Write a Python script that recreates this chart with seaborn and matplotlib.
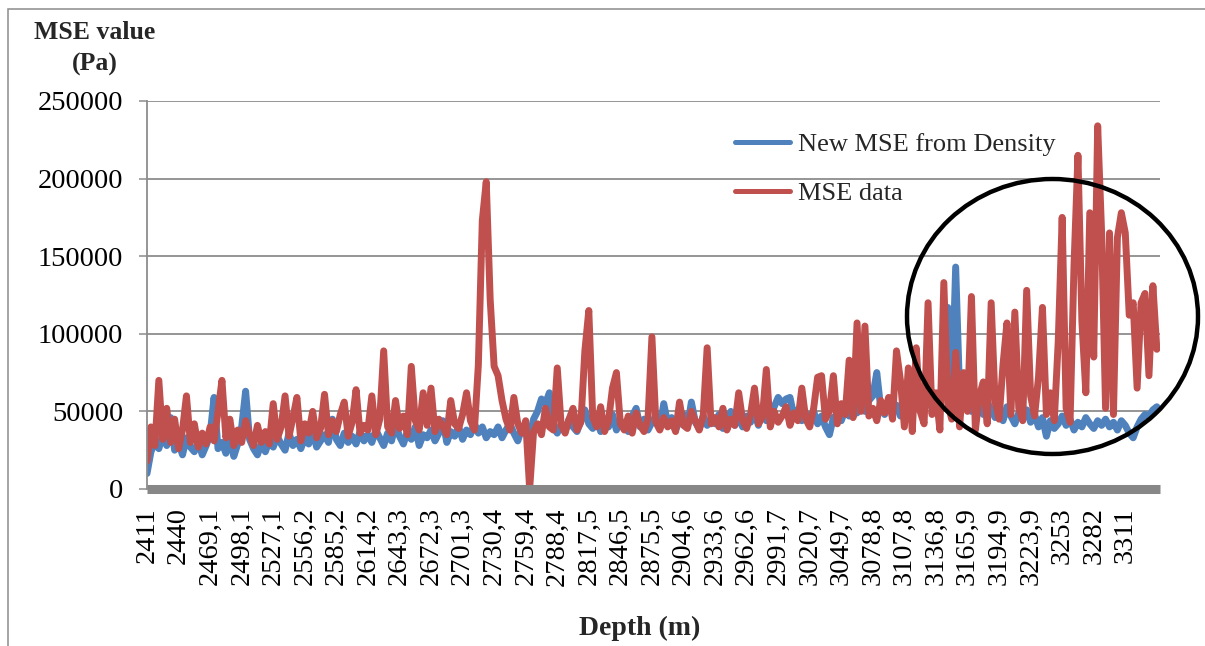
import numpy as np
import pandas as pd
import matplotlib
matplotlib.use("Agg")
import matplotlib.pyplot as plt
from matplotlib.patches import Ellipse, Rectangle
import seaborn as sns

# Depth labels shown along the category axis (one every 8 samples)
depth_labels = ["2411", "2440", "2469,1", "2498,1", "2527,1", "2556,2", "2585,2",
                "2614,2", "2643,3", "2672,3", "2701,3", "2730,4", "2759,4", "2788,4",
                "2817,5", "2846,5", "2875,5", "2904,6", "2933,6", "2962,6", "2991,7",
                "3020,7", "3049,7", "3078,8", "3107,8", "3136,8", "3165,9", "3194,9",
                "3223,9", "3253", "3282", "3311"]
samples_per_label = 8

# MSE computed from density log, in kPa
mse_density_kpa = [
    10, 24, 30, 26, 35, 28, 46, 25,
    30, 22, 33, 27, 24, 31, 22, 28,
    35, 59, 26, 30, 23, 33, 21, 29,
    40, 63, 32, 26, 22, 30, 24, 31,
    27, 34, 29, 25, 36, 28, 32, 26,
    33, 29, 38, 27, 31, 35, 30, 45,
    32, 28, 36, 30, 34, 29, 37, 31,
    35, 30, 38, 33, 28, 36, 31, 42,
    34, 29, 37, 32, 40, 28, 35, 33,
    38, 31, 36, 44, 30, 37, 34, 40,
    32, 38, 35, 42, 36, 40, 33, 37,
    35, 40, 33, 38, 42, 36, 31, 39,
    37, 34, 45, 50, 58, 55, 62, 40,
    36, 42, 38, 45, 40, 37, 44, 51,
    42, 39, 46, 37, 43, 40, 48, 38,
    44, 41, 37, 47, 52, 40, 45, 38,
    43, 47, 39, 55, 42, 46, 38, 44,
    48, 40, 56, 43, 39, 47, 41, 45,
    42, 48, 39, 44, 50, 41, 46, 40,
    47, 43, 49, 41, 52, 44, 48, 53,
    59, 55, 58, 59, 47, 51, 44, 49,
    45, 50, 42, 47, 40, 35, 46, 48,
    44, 51, 47, 53, 49, 55, 50, 57,
    60, 75, 52, 48, 56, 50, 54, 47,
    52, 58, 49, 55, 60, 51, 57, 53,
    61, 55, 64, 117, 58, 143, 62, 54,
    57, 50, 59, 53, 48, 56, 51, 46,
    50, 44, 53, 47, 42, 49, 45, 51,
    43, 48, 40, 46, 34, 44, 39, 42,
    47, 41, 45, 38, 43, 40, 46, 42,
    39, 44, 41, 45, 40, 43, 38, 44,
    41, 36, 33, 40, 45, 48, 47, 51,
    53,
]

# Measured MSE, in kPa
mse_data_kpa = [
    18, 40, 28, 70, 32, 52, 30, 45,
    26, 38, 60, 30, 42, 27, 36, 29,
    40, 31, 50, 70, 33, 45, 28, 38,
    30, 44, 35, 28, 41, 30, 37, 29,
    55, 32, 40, 60, 34, 46, 59, 31,
    42, 36, 50, 33, 39, 61, 35, 44,
    37, 48, 56, 34, 43, 64, 36, 41,
    38, 60, 35, 45, 89, 40, 36, 57,
    39, 47, 35, 79, 44, 38, 62, 41,
    65, 37, 45, 40, 35, 57, 42, 39,
    48, 62, 44, 38, 80, 173, 198, 122,
    79, 73, 57, 45, 38, 59, 42, 36,
    44, 0, 37, 42, 35, 52, 40, 38,
    78, 41, 36, 45, 52, 38, 43, 89,
    115, 46, 40, 53, 37, 44, 65, 75,
    42, 38, 47, 36, 49, 41, 37, 45,
    98, 43, 38, 46, 40, 44, 37, 56,
    41, 39, 50, 44, 38, 47, 91, 42,
    46, 40, 52, 38, 45, 41, 62, 44,
    39, 48, 65, 42, 46, 77, 40, 50,
    43, 47, 53, 41, 49, 44, 65, 45,
    40, 52, 72, 73, 45, 50, 73, 42,
    55, 48, 83, 46, 107, 50, 105, 47,
    52, 44, 57, 49, 59, 45, 89, 70,
    40, 78, 37, 91, 50, 42, 120, 48,
    62, 38, 133, 55, 45, 88, 40, 75,
    50, 124, 38, 60, 69, 42, 120, 56,
    45, 80, 107, 48, 114, 52, 44, 128,
    60, 47, 72, 117, 48, 62, 44, 95,
    175, 52, 43, 144, 215, 108, 62, 178,
    85, 234, 165, 52, 165, 48, 162, 178,
    165, 112, 120, 65, 120, 126, 73, 131,
    90,
]

BLUE = "#4F81BD"
RED = "#C0504D"
GRID = "#8C8C8C"
LINE_W = 5.0
HANDLE_W = 3.6

df = pd.DataFrame({
    "sample": np.arange(len(mse_data_kpa)),
    "New MSE from Density": np.array(mse_density_kpa) * 1000,
    "MSE data": np.array(mse_data_kpa) * 1000,
})

sns.set_theme(style="white")
plt.rcParams["font.family"] = ["Liberation Serif", "DejaVu Serif"]

W, H = 1205, 646
fig = plt.figure(figsize=(W / 100, H / 100), dpi=100)
ax = fig.add_axes([147 / W, 1 - 489 / H, (1160 - 147) / W, (489 - 101) / H])

for col, color in [("New MSE from Density", BLUE), ("MSE data", RED)]:
    sns.lineplot(data=df, x="sample", y=col, color=color,
                 label=col, ax=ax, legend=False)
for ln in ax.lines:
    ln.set_linewidth(LINE_W)
    ln.set_solid_joinstyle("round")
    ln.set_solid_capstyle("round")

ax.set_xlim(0, len(mse_data_kpa) - 1 + 0.8)
ax.set_ylim(0, 250000)
yticks = np.arange(0, 250001, 50000)
ax.set_yticks(yticks)
ax.set_yticklabels([str(v) for v in yticks], fontsize=20.5)
ax.set_xticks(np.arange(len(depth_labels)) * samples_per_label)
ax.set_xticklabels(depth_labels, rotation=90, fontsize=20.5, va="top", ha="center")
ax.set_xlabel("")
ax.set_ylabel("")

ax.yaxis.grid(True, color=GRID, linewidth=1.3)
ax.xaxis.grid(False)
ax.tick_params(axis="y", which="major", left=True, length=6, width=1.1,
               color=GRID, pad=11, labelcolor="black")
ax.tick_params(axis="x", which="major", bottom=False, length=0, pad=13,
               labelcolor="black")

for side in ("top", "right"):
    ax.spines[side].set_visible(False)
ax.spines["left"].set_color(GRID)
ax.spines["left"].set_linewidth(1.3)
ax.spines["bottom"].set_color("#878787")
ax.spines["bottom"].set_linewidth(6.5)
ax.spines["bottom"].set_capstyle("butt")
ax.spines["bottom"].set_zorder(3)

leg = ax.legend(loc="upper left", bbox_to_anchor=(735 / W, 1 - 133 / H),
                bbox_transform=fig.transFigure, frameon=False, fontsize=19,
                handlelength=2.1, handletextpad=0.28, labelspacing=0.95,
                borderpad=0, borderaxespad=0)
for h in leg.get_lines():
    h.set_linewidth(HANDLE_W)
    h.set_solid_capstyle("round")

fig.text(95 / W, 1 - 48.5 / H, "MSE value\n(Pa)", ha="center", va="center",
         fontsize=18.5, fontweight="bold", linespacing=1.5, multialignment="center")
fig.text(640 / W, 1 - 628 / H, "Depth (m)", ha="center", va="center",
         fontsize=20, fontweight="bold")

# Highlight of the deep interval
fig.patches.append(Ellipse((1052.5 / W, 1 - 316.5 / H), 291 / W, 275 / H,
                           transform=fig.transFigure, fill=False,
                           edgecolor="black", linewidth=3.2, zorder=10))
# Chart area frame
fig.patches.append(Rectangle((8 / W, -0.1), 1.2, 1.1 - 9 / H,
                             transform=fig.transFigure, fill=False,
                             edgecolor=GRID, linewidth=1.1))

fig.savefig("out.png", dpi=100)
